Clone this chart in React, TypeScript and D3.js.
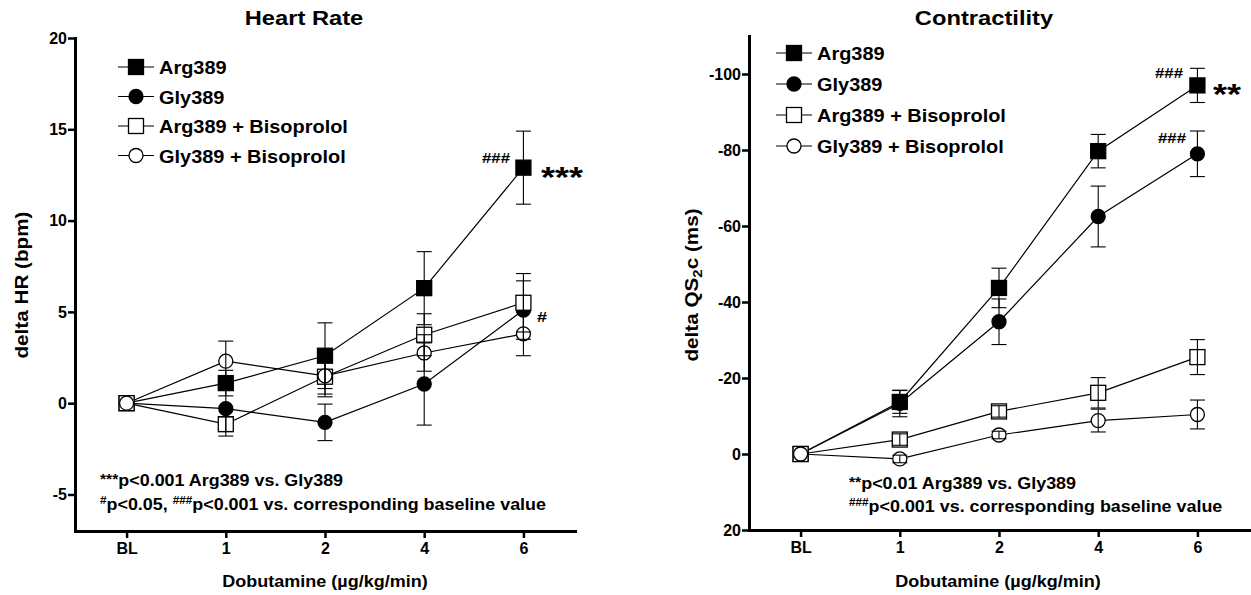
import React, { useRef, useEffect } from "react";
import * as d3 from "d3";

const FONT = "'Liberation Sans', Arial, Helvetica, sans-serif";

// dobutamine doses (x categories)
const doses = ["BL", "1", "2", "4", "6"];

const seriesNames = ["Arg389", "Gly389", "Arg389 + Bisoprolol", "Gly389 + Bisoprolol"];
const seriesShapes = ["square", "circle", "square", "circle"];
const seriesFilled = [true, true, false, false];

// Heart rate, delta HR (bpm), mean and SEM
const hrArg = [0, 1.1, 2.6, 6.3, 12.9];
const hrArgErr = [0, 0.7, 1.8, 2.0, 2.0];
const hrGly = [0, -0.3, -1.05, 1.05, 5.1];
const hrGlyErr = [0, 1.5, 1.0, 2.25, 1.6];
const hrArgBiso = [0, -1.15, 1.45, 3.75, 5.5];
const hrArgBisoErr = [0, 0.4, 1.1, 1.15, 1.6];
const hrGlyBiso = [0, 2.3, 1.5, 2.75, 3.8];
const hrGlyBisoErr = [0, 1.1, 1.0, 1.0, 1.2];
const hrTicks = [20, 15, 10, 5, 0, -5];

// Contractility, delta QS2c (ms), mean and SEM
const qsArg = [0, -13.7, -43.7, -79.7, -97];
const qsArgErr = [0, 3, 5.2, 4.4, 4.5];
const qsGly = [0, -13.3, -34.8, -62.5, -79];
const qsGlyErr = [0, 3.5, 6, 8, 6];
const qsArgBiso = [0, -3.8, -11.2, -16.1, -25.5];
const qsArgBisoErr = [0, 1.5, 1.5, 4, 4.6];
const qsGlyBiso = [0, 1.3, -5.0, -8.8, -10.4];
const qsGlyBisoErr = [0, 1, 1, 3, 3.8];
const qsTicks = [-100, -80, -60, -40, -20, 0, 20];

// text with a little horizontal stretch, the scanned font is wider than ours
function T({ x, y, sx = 1, rot = 0, anchor = "start", size, children }) {
  return (
    <text transform={`translate(${x},${y}) rotate(${rot}) scale(${sx},1)`} textAnchor={anchor} fontSize={size}>
      {children}
    </text>
  );
}

function Symbol({ shape, filled, x, y, size }) {
  const fill = filled ? "#000" : "#fff";
  if (shape === "square") {
    return (
      <rect x={x - size / 2} y={y - size / 2} width={size} height={size}
        fill={fill} stroke="#000" strokeWidth={1.3} />
    );
  }
  return <circle cx={x} cy={y} r={size / 2 - 0.5} fill={fill} stroke="#000" strokeWidth={1.3} />;
}

function Panel(props) {
  const { xRange, yDomain, yRange, yTicks, data, errs, title, titleX, yTitle, yTitleX,
    xTitleX, legendX, legendY, legendGap, notes, marks } = props;
  const xRef = useRef(null);
  const yRef = useRef(null);

  const x = d3.scalePoint().domain(doses).range(xRange).padding(0.52);
  const y = d3.scaleLinear().domain(yDomain).range(yRange);
  const line = d3.line().x((d, i) => x(doses[i])).y((d) => y(d));

  useEffect(() => {
    const gx = d3.select(xRef.current);
    gx.call(d3.axisBottom(x).tickSize(7).tickSizeOuter(0).tickPadding(5));
    gx.attr("font-family", FONT).attr("font-size", 16).attr("font-weight", "bold");
    gx.select(".domain").attr("stroke-width", 3).attr("stroke-linecap", "square");
    gx.selectAll(".tick line").attr("stroke-width", 2.5);
    gx.selectAll(".tick text").attr("fill", "#000");

    const gy = d3.select(yRef.current);
    gy.call(d3.axisLeft(y).tickValues(yTicks).tickFormat((d) => String(d)).tickSize(7).tickSizeOuter(0).tickPadding(1));
    gy.attr("font-family", FONT).attr("font-size", 16).attr("font-weight", "bold");
    gy.select(".domain").attr("stroke-width", 3).attr("stroke-linecap", "square");
    gy.selectAll(".tick line").attr("stroke-width", 2.5);
    gy.selectAll(".tick text").attr("fill", "#000");
  }, []);

  const cap = 7.5;
  return (
    <g fontFamily={FONT} fontWeight="bold">
      <T x={titleX} y={25} sx={1.13} anchor="middle" size={21}>{title}</T>
      <T x={yTitleX} y={285} sx={1.15} rot={-90} anchor="middle" size={18}>{yTitle}</T>
      <T x={xTitleX} y={587} sx={1.06} anchor="middle" size={17}>Dobutamine (µg/kg/min)</T>

      {data.map((vals, s) => (
        <path key={"l" + s} d={line(vals)} fill="none" stroke="#000" strokeWidth={1.2} />
      ))}
      {data.map((vals, s) => vals.map((v, i) => (
        <Symbol key={"s" + s + i} shape={seriesShapes[s]} filled={seriesFilled[s]}
          x={x(doses[i])} y={y(v)} size={15} />
      )))}
      {data.map((vals, s) => vals.map((v, i) => {
        const e = errs[s][i];
        if (!e) return null;
        const cx = x(doses[i]);
        return (
          <g key={"e" + s + i} stroke="#000" strokeWidth={1.1}>
            <line x1={cx} x2={cx} y1={y(v - e)} y2={y(v + e)} />
            <line x1={cx - cap} x2={cx + cap} y1={y(v - e)} y2={y(v - e)} />
            <line x1={cx - cap} x2={cx + cap} y1={y(v + e)} y2={y(v + e)} />
          </g>
        );
      }))}

      <g ref={xRef} transform={`translate(0,${yRange[0]})`} />
      <g ref={yRef} transform={`translate(${xRange[0]},0)`} />

      {seriesNames.map((name, s) => {
        const cy = legendY + s * legendGap;
        return (
          <g key={"lg" + s}>
            <line x1={legendX - 18} x2={legendX + 18} y1={cy} y2={cy} stroke="#000" strokeWidth={1.2} />
            <Symbol shape={seriesShapes[s]} filled={seriesFilled[s]} x={legendX} y={cy} size={15} />
            <T x={legendX + 23} y={cy + 7} sx={1.05} size={19}>{name}</T>
          </g>
        );
      })}

      {marks.map((m, i) => (
        <T key={"m" + i} x={m.x} y={m.y} sx={1.2} size={m.size}>{m.text}</T>
      ))}

      {notes.map((n, i) => (
        <T key={"n" + i} x={n.x} y={n.y} sx={1.12} size={16}>
          {n.parts.map((p, j) => p.sup
            ? <tspan key={j} fontSize={p.t[0] === "*" ? 14 : 10.5} dy={p.t[0] === "*" ? -2 : -6}>{p.t}</tspan>
            : <tspan key={j} dy={j > 0 && n.parts[j - 1].sup ? (n.parts[j - 1].t[0] === "*" ? 2 : 6) : 0}>{p.t}</tspan>)}
        </T>
      ))}
    </g>
  );
}

export default function App() {
  return (
    <div style={{ position: "absolute", left: 0, top: 0 }}>
      <svg width={1251} height={595} style={{ display: "block", background: "#fff" }}>
        <Panel
          xRange={[75, 575]}
          yDomain={[-7, 20]}
          yRange={[531, 38]}
          yTicks={hrTicks}
          data={[hrArg, hrGly, hrArgBiso, hrGlyBiso]}
          errs={[hrArgErr, hrGlyErr, hrArgBisoErr, hrGlyBisoErr]}
          title="Heart Rate"
          titleX={304}
          yTitle="delta HR (bpm)"
          yTitleX={28}
          xTitleX={325}
          legendX={136}
          legendY={67}
          legendGap={29.5}
          marks={[
            { x: 482, y: 163, size: 14, text: "###" },
            { x: 541, y: 187, size: 30, text: "***" },
            { x: 537, y: 322, size: 15, text: "#" },
          ]}
          notes={[
            { x: 100, y: 486, parts: [{ t: "***", sup: true }, { t: "p<0.001 Arg389 vs. Gly389" }] },
            { x: 100, y: 510, parts: [{ t: "#", sup: true }, { t: "p<0.05, " }, { t: "###", sup: true }, { t: "p<0.001 vs. corresponding baseline value" }] },
          ]}
        />
        <Panel
          xRange={[749, 1249]}
          yDomain={[20, -110]}
          yRange={[530, 36]}
          yTicks={qsTicks}
          data={[qsArg, qsGly, qsArgBiso, qsGlyBiso]}
          errs={[qsArgErr, qsGlyErr, qsArgBisoErr, qsGlyBisoErr]}
          title="Contractility"
          titleX={984}
          yTitle={<>delta QS<tspan fontSize={13} dy={4}>2</tspan><tspan dy={-4}>c (ms)</tspan></>}
          yTitleX={698}
          xTitleX={998}
          legendX={794}
          legendY={53}
          legendGap={31}
          marks={[
            { x: 1155, y: 78, size: 14, text: "###" },
            { x: 1213, y: 104, size: 30, text: "**" },
            { x: 1158, y: 143, size: 14, text: "###" },
          ]}
          notes={[
            { x: 849, y: 489, parts: [{ t: "**", sup: true }, { t: "p<0.01 Arg389 vs. Gly389" }] },
            { x: 849, y: 512, parts: [{ t: "###", sup: true }, { t: "p<0.001 vs. corresponding baseline value" }] },
          ]}
        />
      </svg>
    </div>
  );
}
